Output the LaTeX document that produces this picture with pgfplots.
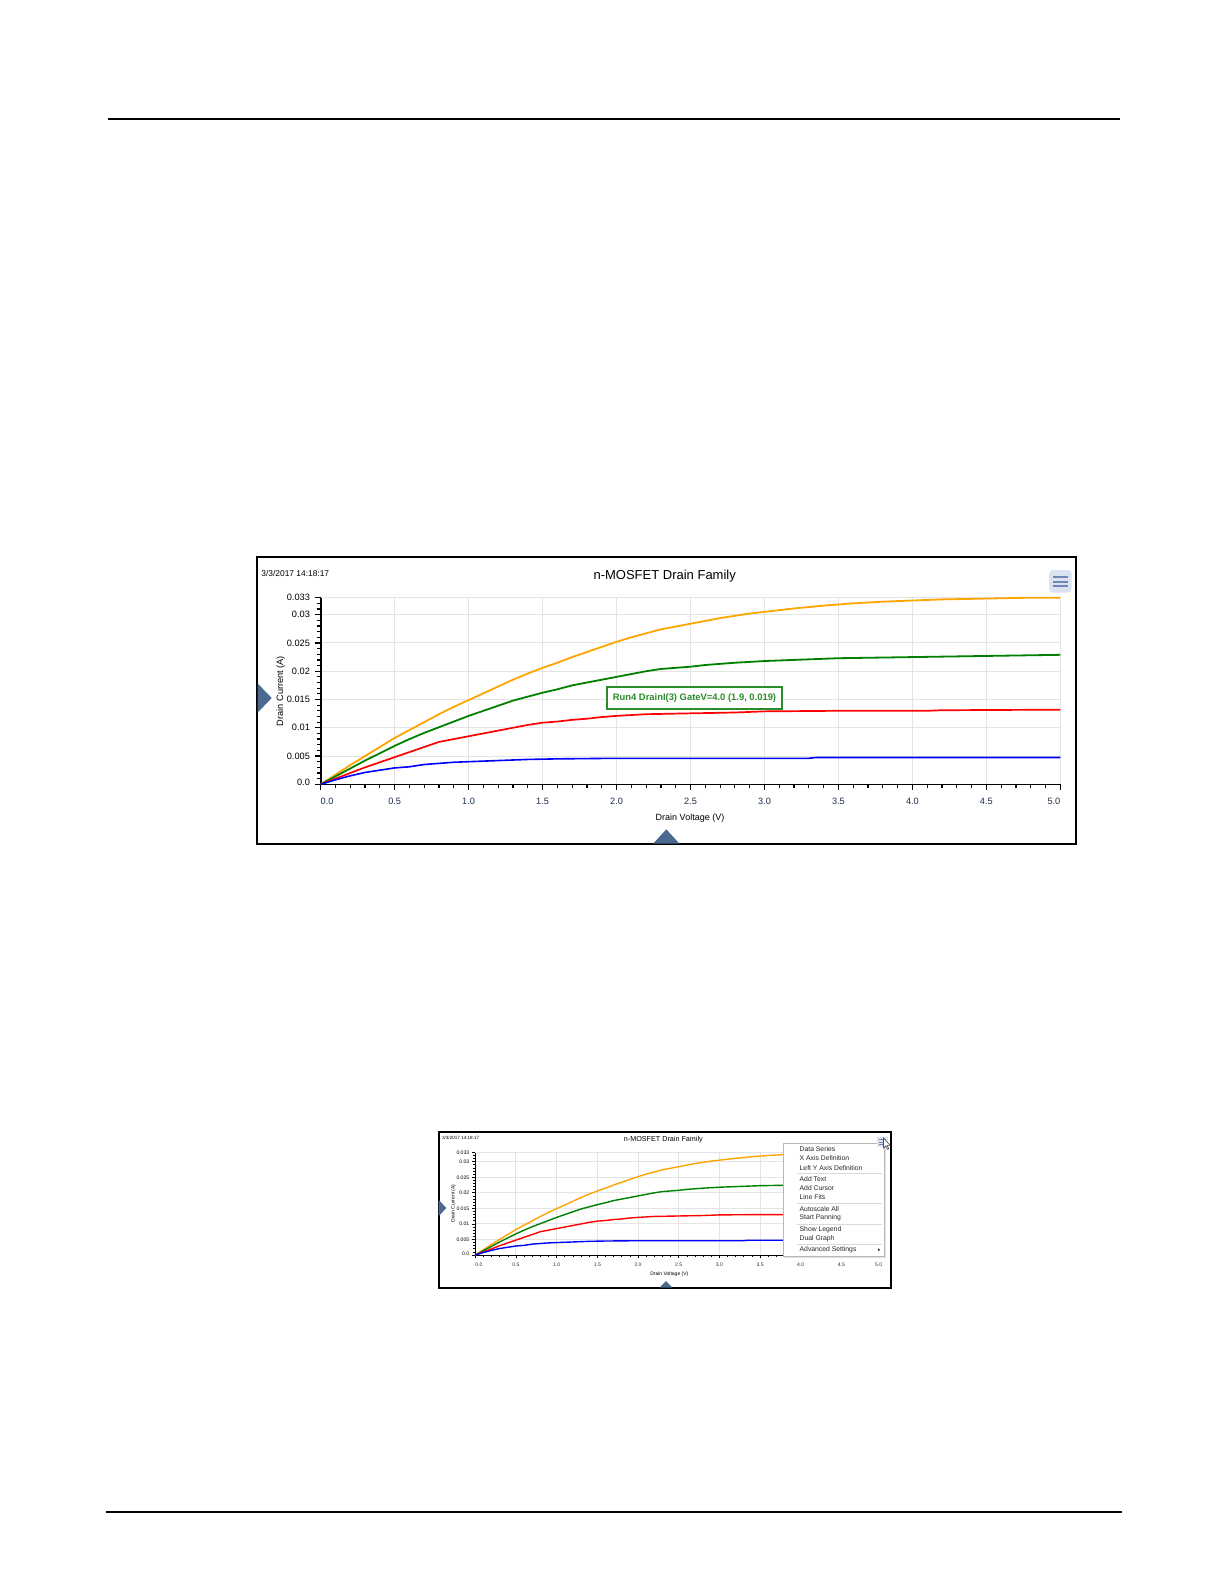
\documentclass[border=0pt]{standalone}
\usepackage{fontspec}
\setmainfont{Liberation Sans}
\usepackage{pgfplots}
\pgfplotsset{compat=1.18}
\usepackage{pgfplotstable}

\definecolor{cOrange}{HTML}{FFA500}
\definecolor{cGreen}{HTML}{008000}
\definecolor{cRed}{HTML}{FF0000}
\definecolor{cBlue}{HTML}{0000FF}
\definecolor{cGrid}{HTML}{E4E4E4}
\definecolor{cNavy}{HTML}{1F2F4F}
\definecolor{cTri}{HTML}{4A6890}
\definecolor{cMenuBg}{HTML}{DCE3F0}
\definecolor{cMenuLn}{HTML}{6C87B5}
\definecolor{cAnn}{HTML}{2A8C2A}

\newcommand\F[1]{\fontsize{#1bp}{#1bp}\selectfont}

\pgfplotstableread{
V I
0 0
0.1 0.0017
0.2 0.0034
0.3 0.0050
0.4 0.0066
0.5 0.0082
0.6 0.0096
0.7 0.0110
0.8 0.0124
0.9 0.0137
1.0 0.0149
1.1 0.0161
1.2 0.0173
1.3 0.0185
1.4 0.0196
1.5 0.0206
1.6 0.0215
1.7 0.0225
1.8 0.0234
1.9 0.0243
2.0 0.0252
2.1 0.0260
2.2 0.0267
2.3 0.0274
2.4 0.0279
2.5 0.0284
2.6 0.0289
2.7 0.0294
2.8 0.0298
2.9 0.0302
3.0 0.0305
3.2 0.0311
3.4 0.0316
3.6 0.0320
3.8 0.0323
4.0 0.0325
4.2 0.0327
4.4 0.0328
4.6 0.0329
4.8 0.0330
5.0 0.0330
}\orange

\pgfplotstableread{
V I
0 0
0.1 0.0014
0.2 0.0028
0.3 0.0042
0.4 0.0055
0.5 0.0068
0.6 0.0080
0.7 0.0091
0.8 0.0101
0.9 0.0111
1.0 0.0121
1.1 0.0130
1.2 0.0139
1.3 0.0148
1.4 0.0155
1.5 0.0162
1.6 0.0168
1.7 0.0175
1.8 0.0180
1.9 0.0185
2.0 0.0190
2.1 0.0195
2.2 0.0200
2.3 0.0204
2.4 0.0206
2.5 0.0208
2.6 0.0211
2.7 0.0213
2.8 0.0215
3.0 0.0218
3.2 0.0220
3.5 0.0223
4.0 0.0225
4.5 0.0227
5.0 0.0229
}\green

\pgfplotstableread{
V I
0 0
0.1 0.0010
0.2 0.0020
0.3 0.0030
0.4 0.0039
0.5 0.0048
0.6 0.0057
0.7 0.0066
0.8 0.0075
0.9 0.0080
1.0 0.0085
1.1 0.0090
1.2 0.0095
1.3 0.0100
1.4 0.0105
1.5 0.0109
1.6 0.0111
1.7 0.0114
1.8 0.0116
1.9 0.0119
2.0 0.0121
2.2 0.0124
2.4 0.0125
2.6 0.0126
2.8 0.0127
3.0 0.0129
3.5 0.0130
4.1 0.0130
4.2 0.0131
5.0 0.0132
}\red

\pgfplotstableread{
V I
0 0
0.1 0.0008
0.2 0.0015
0.3 0.0021
0.4 0.0025
0.5 0.0029
0.6 0.0031
0.7 0.0035
0.8 0.0037
0.9 0.0039
1.0 0.0040
1.2 0.0042
1.4 0.0044
1.6 0.0045
2.0 0.0046
3.3 0.0046
3.35 0.00475
5.0 0.00475
}\blue

\newcommand\setscale[1]{%
 \pgfmathsetmacro\W{369.8*#1}%
 \pgfmathsetmacro\H{93.3*#1}%
 \pgfmathsetmacro\fsT{4.6*#1}%
 \pgfmathsetmacro\lwAx{0.8*#1}%
 \pgfmathsetmacro\lwTk{0.6*#1}%
 \pgfmathsetmacro\tkM{2.8*#1}%
 \pgfmathsetmacro\tkm{1.9*#1}%
 \pgfmathsetmacro\ra{2.2*#1}%
 \pgfmathsetmacro\rb{2.8*#1}%
 \pgfmathsetmacro\xls{-4.1*#1}%
 \pgfmathsetmacro\yls{-2.4*#1}%
}

\pgfplotsset{
 mos/.style={
  scale only axis, clip=false,
  width=\W bp, height=\H bp,
  xmin=0, xmax=5, ymin=0, ymax=0.033,
  axis lines*=left,
  axis line style={black, line width=\lwAx bp},
  tick align=outside,
  major tick length=\tkM bp, minor tick length=\tkm bp,
  every tick/.style={black, line width=\lwTk bp},
  xtick={0,0.5,1,1.5,2,2.5,3,3.5,4,4.5,5},
  xticklabels={\makebox[0pt][l]{0.0},0.5,1.0,1.5,2.0,2.5,3.0,3.5,4.0,4.5,\makebox[0pt][r]{5.0}},
  minor xtick={0.1,0.2,0.3,0.4,0.6,0.7,0.8,0.9,1.1,1.2,1.3,1.4,1.6,1.7,1.8,1.9,2.1,2.2,2.3,2.4,2.6,2.7,2.8,2.9,3.1,3.2,3.3,3.4,3.6,3.7,3.8,3.9,4.1,4.2,4.3,4.4,4.6,4.7,4.8,4.9},
  ytick={0,0.005,0.01,0.015,0.02,0.025,0.03},
  yticklabels={\raisebox{\ra bp}{0.0},0.005,0.01,0.015,0.02,0.025,0.03},
  minor ytick={0.001,0.002,0.003,0.004,0.006,0.007,0.008,0.009,0.011,0.012,0.013,0.014,0.016,0.017,0.018,0.019,0.021,0.022,0.023,0.024,0.026,0.027,0.028,0.029,0.031,0.032},
  extra y ticks={0.033},
  extra y tick labels={\raisebox{-\rb bp}{0.033}},
  extra y tick style={grid=major},
  grid=major,
  major grid style={draw=cGrid, line width=0.5bp},
  xticklabel style={font=\F{\fsT}, text=cNavy, inner sep=0pt, anchor=north, yshift=\xls bp},
  yticklabel style={font=\F{\fsT}, text=black, inner sep=0pt, anchor=east, xshift=\yls bp},
  scaled y ticks=false,
 }
}

\begin{document}
\begin{tikzpicture}[x=0.5bp,y=0.5bp]
\path[use as bounding box, fill=white] (0,0) rectangle (1225,-1585);
\coordinate (O1) at (320.7,-784.3);
\coordinate (O2) at (475.3,-1255);

% page rules
\draw[line width=1bp] (108,-119) -- (1120,-119);
\draw[line width=1bp] (106,-1512) -- (1122,-1512);

% ================= Chart 1 =================
\setscale{1}
\begin{axis}[mos, at={(O1)}, anchor=south west]
\addplot[cOrange, line width=0.9bp] table[x=V,y=I] {\orange};
\addplot[cGreen, line width=0.9bp] table[x=V,y=I] {\green};
\addplot[cRed, line width=0.85bp] table[x=V,y=I] {\red};
\addplot[cBlue, line width=0.8bp] table[x=V,y=I] {\blue};
\end{axis}
\draw[line width=1bp] (256.7,-557.3) rectangle (1075.7,-844.3);
\node[anchor=west, inner sep=0pt, font=\F{4.2}] at (261,-573) {3/3/2017 14:18:17};
\node[inner sep=0pt, font=\F{6.5}] at (664.7,-576) {n-MOSFET Drain Family};
\fill[cMenuBg, rounded corners=2bp] (1049,-570) rectangle (1071.7,-592.7);
\foreach \yy in {577.3,581.7,586.3} \draw[cMenuLn, line width=1bp] (1053.3,-\yy) -- (1068.3,-\yy);
\node[rotate=90, inner sep=0pt, font=\F{4.6}] at (280.7,-691) {Drain Current (A)};
\node[inner sep=0pt, font=\F{4.5}] at (690,-818.3) {Drain Voltage (V)};
\fill[cTri] (257.5,-683.3) -- (271.7,-698) -- (257.5,-712.7) -- cycle;
\fill[cTri] (653.3,-843.5) -- (666.3,-829.3) -- (679.3,-843.5) -- cycle;
\node[draw=cAnn, line width=1bp, fill=white, text=cAnn, font=\bfseries\F{4.7}, minimum width=87.8bp, minimum height=11bp, inner sep=0pt] at (694.5,-698.3) {Run4 DrainI(3) GateV=4.0 (1.9, 0.019)};

% ================= Chart 2 =================
\setscale{0.55}
\begin{axis}[mos, at={(O2)}, anchor=south west]
\addplot[cOrange, line width=0.7bp] table[x=V,y=I] {\orange};
\addplot[cGreen, line width=0.7bp] table[x=V,y=I] {\green};
\addplot[cRed, line width=0.7bp] table[x=V,y=I] {\red};
\addplot[cBlue, line width=0.7bp] table[x=V,y=I] {\blue};
\end{axis}
\draw[line width=1bp] (439.3,-1132.3) rectangle (891,-1287.7);
\node[anchor=west, inner sep=0pt, font=\F{2.3}] at (441.7,-1138.3) {3/3/2017 14:18:17};
\node[inner sep=0pt, font=\F{3.6}] at (663.3,-1140) {n-MOSFET Drain Family};
\node[rotate=90, inner sep=0pt, font=\F{2.5}] at (453.3,-1203.4) {Drain Current (A)};
\node[inner sep=0pt, font=\F{2.5}] at (669.3,-1274.3) {Drain Voltage (V)};
\fill[cTri] (438.7,-1200) -- (446.3,-1208) -- (438.7,-1216) -- cycle;
\fill[cTri] (659.3,-1287.7) -- (666,-1281) -- (672.7,-1287.7) -- cycle;
% popup menu
\fill[black!12] (785,-1145) rectangle (885.7,-1257.7);
\draw[draw=black!28, line width=0.5bp, fill=white] (783.3,-1143.3) rectangle (884,-1256);
\foreach \yy/\tt in {1149.3/Data Series,1158.3/X Axis Definition,1167.7/Left Y Axis Definition,1179/Add Text,1188.3/Add Cursor,1197.3/Line Fits,1208.7/Autoscale All,1218/Start Panning,1229.3/Show Legend,1238.7/Dual Graph,1249.7/Advanced Settings}
  \node[anchor=west, inner sep=0pt, font=\F{3.4}, text=black!85] at (799.3,-\yy) {\tt};
\foreach \yy in {1173.3,1203.3,1224,1244.3} \draw[black!15, line width=0.5bp] (796.7,-\yy) -- (882,-\yy);
\fill[black!80] (878,-1248.3) -- (880.3,-1249.7) -- (878,-1251.1) -- cycle;
% menu icon + cursor
\fill[cMenuBg] (877,-1137) rectangle (888,-1147);
\foreach \yy in {1139.5,1142,1144.5} \draw[cMenuLn, line width=0.5bp] (878.5,-\yy) -- (886,-\yy);
\draw[black!70, fill=white, line width=0.3bp] (883.5,-1138) -- (883.5,-1148) -- (885.8,-1145.8) -- (887.5,-1149.3) -- (888.7,-1148.7) -- (887.2,-1145.3) -- (890,-1145.3) -- cycle;
\end{tikzpicture}
\end{document}
